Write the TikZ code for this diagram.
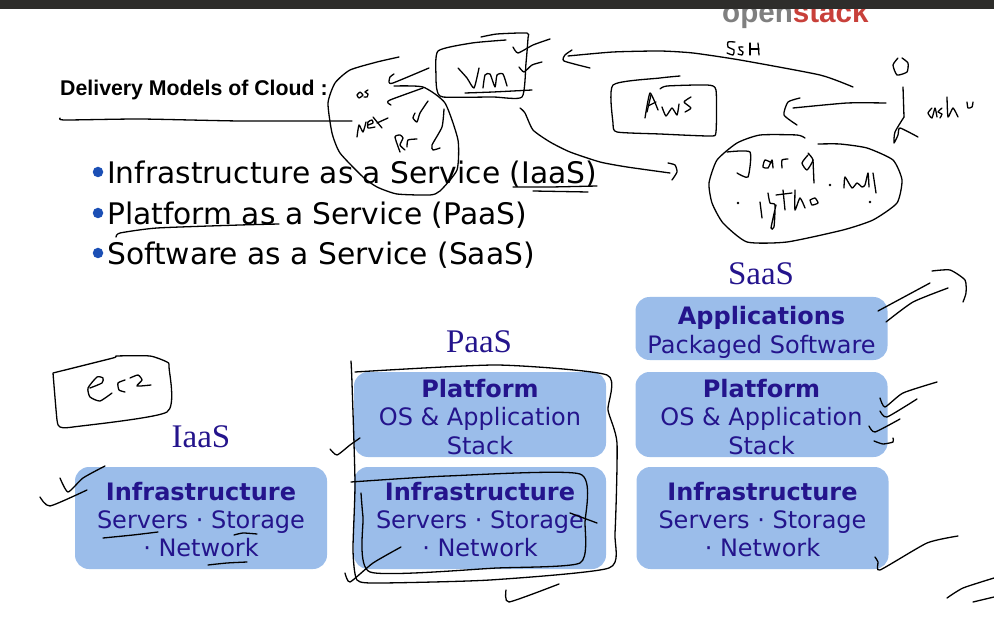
\documentclass[tikz,border=0pt]{standalone}
\usepackage{fontspec}
\setmainfont{DejaVu Sans}
\newfontfamily\titlefont{Liberation Sans}
\newfontfamily\headfont{Liberation Serif}
\definecolor{boxblue}{HTML}{9BBDEA}
\definecolor{boxtext}{HTML}{24148C}
\definecolor{dotblue}{HTML}{1B4FB5}
\definecolor{barcolor}{HTML}{2E2D2B}
\definecolor{logogray}{HTML}{7F7F7F}
\definecolor{logored}{HTML}{C8403A}
\tikzset{
    ink/.style={black, line width=1.3pt, line cap=round, line join=round},
    layerbox/.style={fill=boxblue, rounded corners=14pt, minimum width=252pt, inner sep=0pt,
        text=boxtext, align=center, font=\fontsize{24}{28.2}\selectfont},
    modelhead/.style={text=boxtext, font=\headfont\fontsize{33}{33}\selectfont},
    itemtext/.style={anchor=base west, inner sep=0pt, font=\fontsize{29.7}{30}\selectfont},
    itemdot/.style={circle, fill=dotblue, minimum size=10.5pt, inner sep=0pt}
}
\newcommand{\inkline}[1]{\draw[ink] plot[smooth, tension=0.35] coordinates {#1};}
\newcommand{\toppad}[1]{\rule{0pt}{#1pt}}
\begin{document}
\begin{tikzpicture}[x=1pt, y=-1pt]
    \useasboundingbox (0,0) rectangle (994,639);
    % slide logo, cut by the bar
    \node[anchor=base west, inner sep=0pt, font=\titlefont\bfseries\fontsize{29.6}{30}\selectfont] (logo) at (722,23)
        {\textcolor{logogray}{open}\textcolor{logored}{stack}};
    \fill[barcolor] (0,0) rectangle (994,9);

    % slide text
    \node[anchor=base west, inner sep=0pt, font=\titlefont\bfseries\fontsize{21.3}{22}\selectfont] (title) at (60,96) {Delivery Models of Cloud :};
    \foreach \n/\y/\t in {iaasitem/184/Infrastructure as a Service (IaaS),
                          paasitem/225/Platform as a Service (PaaS),
                          saasitem/265/Software as a Service (SaaS)} {
        \node[itemtext] (\n) at (107,\y) {\t};
        \node[itemdot] (\n dot) at (98,\y-12) {};
    }

    % layer boxes
    \node[layerbox, minimum height=102pt] (iaasinfra) at (201,518) {\toppad{21}\textbf{Infrastructure}\\Servers · Storage\\· Network};
    \node[layerbox, minimum height=85pt] (paasplat) at (480,414.5) {\toppad{23}\textbf{Platform}\\OS \& Application\\Stack};
    \node[layerbox, minimum height=102pt] (paasinfra) at (480,518) {\toppad{21}\textbf{Infrastructure}\\Servers · Storage\\· Network};
    \node[layerbox, minimum height=63pt] (saasapps) at (761.5,328.5) {\toppad{26}\textbf{Applications}\\Packaged Software};
    \node[layerbox, minimum height=85pt] (saasplat) at (761.5,414.5) {\toppad{23}\textbf{Platform}\\OS \& Application\\Stack};
    \node[layerbox, minimum height=102pt] (saasinfra) at (762.5,518) {\toppad{21}\textbf{Infrastructure}\\Servers · Storage\\· Network};
    \node[modelhead] (iaashead) at (201,437) {IaaS};
    \node[modelhead] (paashead) at (479,342) {PaaS};
    \node[modelhead] (saashead) at (761,274) {SaaS};

    % ink: top left
    \inkline{(60,118)(65,120)(140,119)(240,121)(352,121)}
    \inkline{(116,237)(120,233)(157,228)(240,225)(279,224)}
    \inkline{(513,187)(550,187)(597,186)}
    \inkline{(533,191)(588,192)}
    \inkline{(399,57)(377,62)(350,70)(335,83)(328,103)(332,133)(340,153)(363,177)(377,187)(397,194)(430,195)(440,191)(457,170)(458,140)(445,103)(423,87)(394,86)}
    \inkline{(429,68)(393,83)(389,82)(390,77)(394,74)}
    \inkline{(423,88)(390,100)(388,103)(391,105)}
    \inkline{(428,101)(420,113)(417,122)(413,118)(415,113)}
    \inkline{(444,109)(442,127)(432,145)(433,150)(440,148)}
    \inkline{(360,92)(357,95)(359,98)(363,95)(360,92)}
    \inkline{(368,90)(365,92)(368,94)(367,97)(364,97)}
    \inkline{(357,137)(359,125)(363,132)(366,122)}
    \inkline{(368,125)(373,123)(372,120)(368,122)(368,128)(375,127)}
    \inkline{(373,117)(382,128)}
    \inkline{(377,123)(388,118)}
    \inkline{(400,152)(395,137)(400,135)(403,138)(400,145)(405,150)}
    \inkline{(407,147)(408,140)(417,139)}

    % ink: vm box
    \inkline{(481,37)(497,34)(527,33)(528,38)(526,63)(522,97)(493,97)(443,97)(437,90)(436,77)(438,51)(472,43)(506,40)}
    \inkline{(458,68)(467,78)(474,88)(479,68)}
    \inkline{(483,88)(485,75)(490,74)(495,87)(497,75)(503,74)(507,86)}
    \inkline{(465,93)(493,92)(532,90)}
    \inkline{(513,47)(518,53)(533,45)(550,39)}
    \inkline{(519,67)(524,72)(532,65)(542,62)}

    % ink: ssh arrow and user
    \inkline{(572,50)(565,55)(564,61)(590,68)}
    \inkline{(568,56)(613,52)(660,51)(693,53)(740,60)(820,75)(853,87)}
    \inkline{(735,42)(728,42)(728,47)(734,50)(733,55)(727,53)}
    \inkline{(743,47)(739,47)(740,50)(743,52)(742,55)(738,54)}
    \inkline{(750,43)(750,55)}
    \inkline{(758,43)(759,55)}
    \inkline{(750,49)(759,49)}
    \inkline{(898,58)(893,65)(897,75)(907,72)(908,63)(902,58)}
    \inkline{(903,87)(904,117)}
    \inkline{(904,117)(895,132)(894,143)(898,135)(900,128)(918,137)}
    \inkline{(886,103)(847,103)(793,108)}
    \inkline{(800,98)(788,102)(784,115)(797,125)}
    \inkline{(932,108)(928,113)(932,118)(935,108)(937,117)}
    \inkline{(942,108)(938,112)(942,114)(940,118)}
    \inkline{(947,97)(948,117)(953,108)(958,117)}
    \inkline{(967,102)(968,108)(972,107)(973,102)}

    % ink: aws box
    \inkline{(680,76)(660,78)(613,85)(613,123)(617,132)(660,134)(710,136)(716,132)(716,90)(707,85)(667,86)(660,89)}
    \inkline{(645,118)(650,93)(658,110)}
    \inkline{(647,112)(651,95)}
    \inkline{(648,106)(656,102)}
    \inkline{(662,107)(666,116)(672,108)(677,115)(679,104)}
    \inkline{(691,97)(684,102)(691,108)(685,112)}

    % ink: arrow to the cloud of languages
    \inkline{(520,108)(525,113)(533,130)(550,142)(570,152)(600,162)(627,167)(670,173)}
    \inkline{(668,163)(675,165)(677,172)(672,180)}
    \inkline{(805,138)(797,135)(760,135)(737,143)(717,160)(709,183)(712,203)(723,223)(747,242)(787,242)(843,230)(873,220)(897,203)(902,180)(893,160)(867,148)(840,144)(818,144)}
    \inkline{(727,152)(750,152)(748,177)(737,173)}
    \inkline{(772,163)(765,160)(763,167)(768,168)(772,160)(773,168)}
    \inkline{(782,168)(782,160)(788,159)}
    \inkline{(808,155)(802,163)(807,170)(813,160)(808,153)}
    \inkline{(813,160)(814,183)}
    \inkline{(844,188)(845,177)(852,188)(857,183)(862,187)(865,185)(868,173)(869,187)}
    \inkline{(873,173)(876,193)}
    \inkline{(760,202)(762,218)}
    \inkline{(768,193)(770,203)(775,205)(774,227)(771,228)(776,205)}
    \inkline{(783,190)(785,210)}
    \inkline{(776,195)(792,193)}
    \inkline{(795,190)(795,210)(800,198)(805,208)}
    \inkline{(810,200)(815,198)(818,203)(812,205)(810,200)}
    \foreach \x/\y in {830/185, 738/203, 870/202} {
        \fill (\x,\y) circle (1.3pt);
    }

    % ink: iaas side
    \inkline{(53,373)(113,358)(117,356)(150,356)(167,362)(169,367)(167,412)(73,427)(60,427)(57,420)(53,373)}
    \inkline{(90,388)(102,383)(103,378)(97,377)(88,388)(90,397)(100,401)(112,393)}
    \inkline{(125,380)(118,383)(119,390)(125,392)}
    \inkline{(130,378)(138,375)(142,380)(137,386)(151,385)}
    \inkline{(60,478)(68,492)(83,478)(105,466)}
    \inkline{(40,497)(50,506)(87,490)}
    \inkline{(103,538)(133,535)(158,532)}
    \inkline{(234,535)(243,533)(257,534)}
    \inkline{(208,565)(227,563)(247,562)}

    % ink: paas side
    \inkline{(351,361)(352,383)(355,483)(353,550)(357,580)(380,583)(490,580)(609,568)(615,533)(617,443)(608,410)(607,375)(497,365)(355,372)}
    \inkline{(351,482)(447,476)(580,474)(585,523)(580,563)(497,568)(370,572)(363,517)(361,493)}
    \inkline{(570,513)(597,523)}
    \inkline{(345,573)(350,582)(373,563)(401,547)}
    \inkline{(330,449)(337,455)(350,445)(360,438)}
    \inkline{(506,590)(509,602)(559,584)}

    % ink: saas side
    \inkline{(878,311)(930,283)}
    \inkline{(886,322)(913,302)(948,288)}
    \inkline{(932,271)(950,270)(965,280)(966,293)(963,302)}
    \inkline{(880,398)(885,407)(903,393)(937,382)}
    \inkline{(880,411)(887,417)(917,399)}
    \inkline{(869,426)(875,432)(900,419)}
    \inkline{(874,441)(883,444)(893,442)(893,438)}
    \inkline{(875,557)(878,562)(880,570)(927,543)(958,536)}
    \inkline{(947,598)(963,588)(994,578)}
    \inkline{(973,602)(994,597)}
\end{tikzpicture}
\end{document}
